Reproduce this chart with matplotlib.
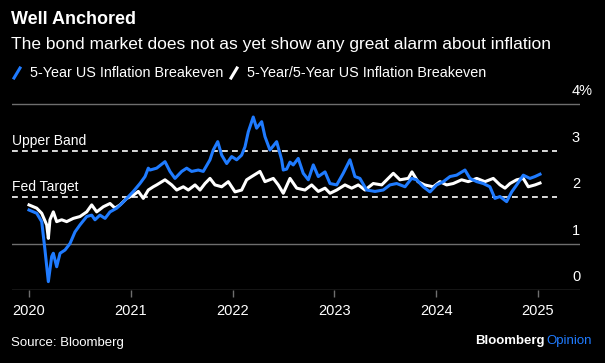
import matplotlib
matplotlib.use("Agg")
import matplotlib.pyplot as plt
from matplotlib.lines import Line2D

plt.rcParams['font.family'] = ['Liberation Sans', 'DejaVu Sans']

# 5-Year US Inflation Breakeven (decimal year, %)
be5_t = [2020.0, 2020.076, 2020.125, 2020.157, 2020.19, 2020.223, 2020.239, 2020.272,
         2020.305, 2020.354, 2020.403, 2020.452, 2020.501, 2020.567, 2020.616, 2020.648,
         2020.697, 2020.747, 2020.796, 2020.862, 2020.911, 2020.96, 2021.025, 2021.09,
         2021.14, 2021.172, 2021.189, 2021.254, 2021.336, 2021.385, 2021.434, 2021.5,
         2021.549, 2021.598, 2021.663, 2021.712, 2021.778, 2021.81, 2021.854, 2021.893,
         2021.942, 2021.991, 2022.04, 2022.089, 2022.122, 2022.154, 2022.203, 2022.236,
         2022.286, 2022.318, 2022.367, 2022.433, 2022.482, 2022.498, 2022.531, 2022.564,
         2022.596, 2022.645, 2022.694, 2022.744, 2022.793, 2022.842, 2022.908, 2022.957,
         2023.023, 2023.087, 2023.153, 2023.202, 2023.251, 2023.317, 2023.399, 2023.48,
         2023.546, 2023.612, 2023.694, 2023.759, 2023.808, 2023.873, 2023.939, 2024.005,
         2024.07, 2024.136, 2024.201, 2024.283, 2024.332, 2024.398, 2024.463, 2024.528,
         2024.577, 2024.627, 2024.692, 2024.742, 2024.791, 2024.856, 2024.921, 2024.971,
         2025.02]
be5_v = [1.72, 1.65, 1.47, 0.86, 0.18, 0.72, 0.79, 0.50,
         0.79, 0.86, 1.00, 1.25, 1.40, 1.58, 1.61, 1.51,
         1.61, 1.54, 1.68, 1.76, 1.86, 1.97, 2.12, 2.29,
         2.44, 2.62, 2.58, 2.62, 2.76, 2.55, 2.40, 2.55,
         2.62, 2.55, 2.58, 2.55, 2.80, 3.01, 3.19, 2.90,
         2.72, 2.87, 2.80, 2.90, 3.08, 3.40, 3.72, 3.48,
         3.62, 3.30, 3.01, 3.19, 2.80, 2.58, 2.60, 2.75,
         2.69, 2.83, 2.51, 2.37, 2.69, 2.44, 2.54, 2.29,
         2.26, 2.51, 2.80, 2.44, 2.40, 2.15, 2.12, 2.15,
         2.26, 2.29, 2.22, 2.40, 2.37, 2.22, 2.11, 2.26,
         2.33, 2.44, 2.47, 2.58, 2.40, 2.33, 2.29, 2.22,
         1.97, 2.01, 1.90, 2.11, 2.26, 2.47, 2.40, 2.44,
         2.49]

# 5-Year/5-Year US Inflation Breakeven
fwd_t = [2020.0, 2020.076, 2020.125, 2020.174, 2020.19, 2020.206, 2020.239, 2020.272,
         2020.321, 2020.37, 2020.435, 2020.501, 2020.567, 2020.616, 2020.665, 2020.73,
         2020.796, 2020.845, 2020.894, 2020.96, 2021.025, 2021.074, 2021.123, 2021.172,
         2021.221, 2021.254, 2021.336, 2021.402, 2021.451, 2021.516, 2021.565, 2021.631,
         2021.68, 2021.729, 2021.778, 2021.827, 2021.893, 2021.958, 2022.024, 2022.089,
         2022.138, 2022.188, 2022.269, 2022.318, 2022.4, 2022.449, 2022.498, 2022.564,
         2022.63, 2022.711, 2022.777, 2022.842, 2022.908, 2022.957, 2023.023, 2023.104,
         2023.17, 2023.235, 2023.301, 2023.382, 2023.465, 2023.579, 2023.644, 2023.726,
         2023.762, 2023.821, 2023.886, 2023.971, 2024.037, 2024.103, 2024.168, 2024.25,
         2024.315, 2024.398, 2024.479, 2024.561, 2024.627, 2024.676, 2024.725, 2024.791,
         2024.856, 2024.905, 2024.971, 2025.02]
fwd_v = [1.83, 1.76, 1.65, 1.40, 1.11, 1.51, 1.68, 1.47,
         1.51, 1.47, 1.54, 1.58, 1.68, 1.83, 1.68, 1.79,
         1.86, 1.76, 1.83, 1.97, 2.04, 2.12, 1.97, 2.15,
         2.22, 2.26, 2.37, 2.26, 2.15, 2.22, 2.15, 2.26,
         2.15, 2.29, 2.40, 2.26, 2.22, 2.33, 2.11, 2.15,
         2.37, 2.44, 2.55, 2.33, 2.40, 2.26, 2.08, 2.40,
         2.19, 2.15, 2.26, 2.12, 2.19, 2.08, 2.15, 2.26,
         2.19, 2.26, 2.15, 2.29, 2.26, 2.51, 2.37, 2.40,
         2.54, 2.33, 2.26, 2.22, 2.33, 2.26, 2.29, 2.37,
         2.33, 2.40, 2.33, 2.40, 2.26, 2.19, 2.29, 2.37,
         2.40, 2.22, 2.26, 2.30]

years = [2020, 2021, 2022, 2023, 2024, 2025]
y_ticks = [0, 1, 2, 3, 4]
bands = [(3, "Upper Band"), (2, "Fed Target")]

BLUE = "#1f7bff"
GRID = "#6e6e6e"

fig = plt.figure(figsize=(6.05, 3.63), dpi=100, facecolor="black")
ax = fig.add_axes([12 / 605, 73 / 363, 568 / 605, 195.3 / 363], facecolor="black")

ax.set_xlim(2019.833, 2025.413)
ax.set_ylim(0, 4.2)

for s in ax.spines.values():
    s.set_visible(False)

# solid grid lines
for v in [0, 1, 4]:
    ax.axhline(v, color=GRID, lw=1, zorder=1)
# dashed reference bands
for v, lab in bands:
    ax.plot([2019.833, 2025.187], [v, v], color="white", lw=1.2, ls=(0, (3.5, 2.5)), zorder=2)
    ax.text(2019.833, v + 0.06, lab, color="white", fontsize=10, ha="left", va="bottom")

ax.plot(fwd_t, fwd_v, color="white", lw=2.2, zorder=3, solid_joinstyle="round")
ax.plot(be5_t, be5_v, color=BLUE, lw=2.2, zorder=4, solid_joinstyle="round")

ax.set_yticks([])
ax.set_xticks(years)
ax.set_xticklabels([str(y) for y in years], color="white", fontsize=10.5)
ax.tick_params(axis="x", colors=GRID, labelcolor="white", length=5, width=1, pad=5)

for v in y_ticks:
    lab = "4%" if v == 4 else str(v)
    ax.text(2025.334, v + 0.12, lab, color="white", fontsize=10.5, ha="left", va="bottom")

fig.text(11 / 605, 1 - 19 / 363, "Well Anchored", color="white", fontsize=13,
         fontweight="bold", ha="left", va="center")
fig.text(11 / 605, 1 - 45 / 363, "The bond market does not as yet show any great alarm about inflation",
         color="white", fontsize=12.5, ha="left", va="center")

# legend
fig.add_artist(Line2D([14 / 605, 20 / 605], [1 - 78 / 363, 1 - 68 / 363], color=BLUE, lw=2.2))
fig.text(30 / 605, 1 - 73 / 363, "5-Year US Inflation Breakeven", color="white", fontsize=10.4,
         ha="left", va="center")
fig.add_artist(Line2D([231 / 605, 237 / 605], [1 - 78 / 363, 1 - 68 / 363], color="white", lw=2.2))
fig.text(247 / 605, 1 - 73 / 363, "5-Year/5-Year US Inflation Breakeven", color="white", fontsize=10.4,
         ha="left", va="center")

fig.text(11 / 605, 1 - 343 / 363, "Source: Bloomberg", color="white", fontsize=9.5, ha="left", va="center")
fig.text(592 / 605, 1 - 341 / 363, "Opinion", color=BLUE, fontsize=9.5, ha="right", va="center")
fig.text(545 / 605, 1 - 341 / 363, "Bloomberg", color="white", fontsize=9.5, fontweight="bold",
         ha="right", va="center")

fig.savefig("out.png", dpi=100, facecolor="black")
